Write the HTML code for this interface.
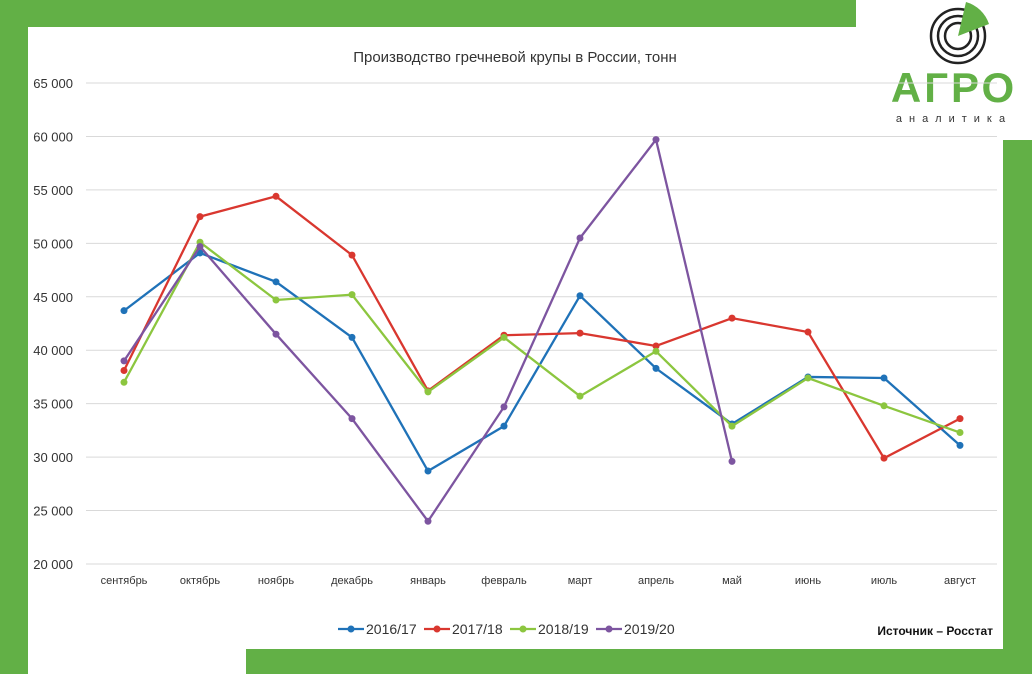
<!DOCTYPE html>
<html><head><meta charset="utf-8">
<style>
body{margin:0;width:1032px;height:674px;overflow:hidden;background:#62b046;font-family:"Liberation Sans",sans-serif;position:relative}
.abs{position:absolute}
</style></head><body>
<div class="abs" style="left:28px;top:27px;width:975px;height:647px;background:#fff"></div>
<div class="abs" style="left:856px;top:0;width:176px;height:140px;background:#fff"></div>
<div class="abs" style="left:246px;top:649px;width:786px;height:25px;background:#62b046"></div>
<svg class="abs" style="left:925px;top:0" width="70" height="70">
<circle cx="33" cy="36" r="27" fill="none" stroke="#222" stroke-width="2.5"/>
<circle cx="33" cy="36" r="20" fill="none" stroke="#222" stroke-width="2.5"/>
<circle cx="33" cy="36" r="13" fill="none" stroke="#222" stroke-width="2.5"/>
<path d="M33 36 L41 2 A34 34 0 0 1 64 24 Z" fill="#62b046"/>
</svg>
<div class="abs" style="left:884px;top:64px;width:140px;text-align:center;font-size:42px;font-weight:bold;color:#62b046;letter-spacing:3px">АГРО</div>
<div class="abs" style="left:884px;top:113px;width:140px;text-align:center;font-size:11px;color:#333;letter-spacing:7px">аналитика</div>
<svg class="abs" id="chart" style="left:0;top:0" width="1032" height="674"></svg>
<script>
const categories=["сентябрь","октябрь","ноябрь","декабрь","январь","февраль","март","апрель","май","июнь","июль","август"];
const seriesNames=["2016/17","2017/18","2018/19","2019/20"];
const s1617=[43700,49100,46400,41200,28700,32900,45100,38300,33100,37500,37400,31100];
const s1718=[38100,52500,54400,48900,36200,41400,41600,40400,43000,41700,29900,33600];
const s1819=[37000,50100,44700,45200,36100,41200,35700,39900,32900,37400,34800,32300];
const s1920=[39000,49700,41500,33600,24000,34700,50500,59700,29600,null,null,null];
const yTicks=[20000,25000,30000,35000,40000,45000,50000,55000,60000,65000];
const colors=["#1f72b8","#d9372f","#8cc63f","#7d55a0"];
const NS="http://www.w3.org/2000/svg";
const svg=document.getElementById('chart');
const x=i=>124+i*76.0;
const y=v=>564-(v-20000)*(481/45000);
function el(t,a,p){const e=document.createElementNS(NS,t);for(const k in a)e.setAttribute(k,a[k]);(p||svg).appendChild(e);return e;}
const title=el('text',{x:515,y:62,'text-anchor':'middle','font-size':15,fill:'#333'});


title.textContent='Производство гречневой крупы в России, тонн';
yTicks.forEach(v=>{
 const g=el('line',{x1:86,x2:997,y1:y(v),y2:y(v),stroke:'#d9d9d9','stroke-width':1});
 
 
 const t=el('text',{x:73,y:y(v)+5,'text-anchor':'end','font-size':13,fill:'#333'});
 
 
 t.textContent=v.toLocaleString('ru-RU').replace(/\s/g,' ');
});
categories.forEach((c,i)=>{
 const t=el('text',{x:x(i),y:584,'text-anchor':'middle','font-size':11,fill:'#333'});
 
 
 t.textContent=c;
});
[s1617,s1718,s1819,s1920].forEach((s,si)=>{
 let d='';s.forEach((v,i)=>{if(v!=null)d+=(d?'L':'M')+x(i)+' '+y(v);});
 const p=el('path',{d,fill:'none',stroke:colors[si],'stroke-width':2.3});
 
 
 s.forEach((v,i)=>{if(v==null)return;
  const m=el('circle',{cx:x(i),cy:y(v),r:3.5,fill:colors[si]});
  
  
 });
});
const lx=[338,424,510,596];
seriesNames.forEach((n,i)=>{
 const l=el('line',{x1:lx[i],x2:lx[i]+26,y1:629,y2:629,stroke:colors[i],'stroke-width':2.3});
 
 
 const c=el('circle',{cx:lx[i]+13,cy:629,r:3.5,fill:colors[i]});
 
 
 const t=el('text',{x:lx[i]+28,y:634,'font-size':14,fill:'#333'});
 
 
 t.textContent=n;
});
const src=el('text',{x:993,y:635,'text-anchor':'end','font-size':12,fill:'#111','font-weight':'bold'});


src.textContent='Источник – Росстат';
</script>
</body></html>
